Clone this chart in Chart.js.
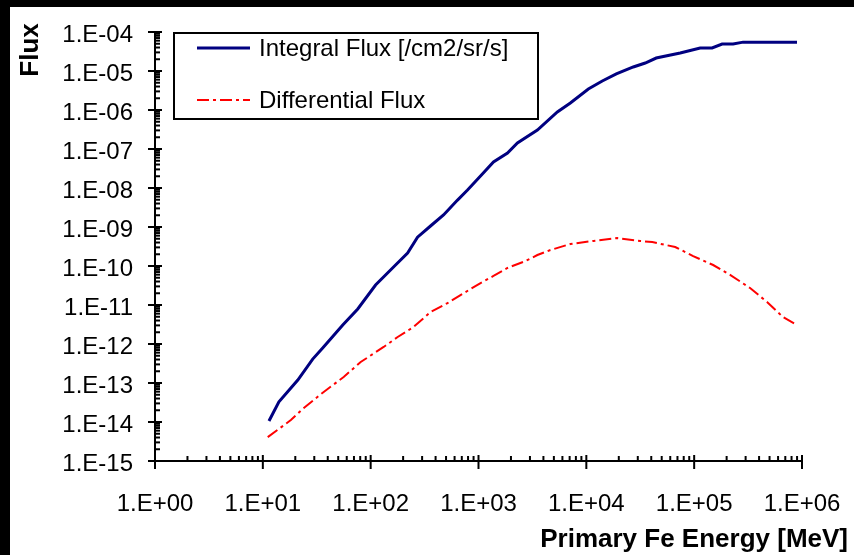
<!DOCTYPE html>
<html>
<head>
<meta charset="utf-8">
<script src="https://cdn.jsdelivr.net/npm/chart.js@4"></script>
<style>
  body { margin: 0; background: #000; }
  #wrap { position: absolute; left: 10px; top: 7px; width: 844px; height: 548px; background: #fff; }
</style>
</head>
<body>
<div id="wrap"><canvas id="fluxChart" width="844" height="548"></canvas></div>
<script>
// Integral flux
const integralEnergy = [11.4, 14.1, 21.1, 29.0, 35.9, 55.1, 75.9, 111, 163, 220, 272, 359, 474, 639, 791,
    1044, 1377, 1857, 2296, 3516, 5386, 7110, 10440, 14060, 18970, 27250, 35170, 44450, 74200,
    113600, 146700, 181600, 229700, 284400, 899000];
const integralFlux = [1.06e-14, 3.3e-14, 1.19e-13, 4.1e-13, 7.9e-13, 3.07e-12, 7.9e-12, 3.26e-11, 9.4e-11,
    2.15e-10, 5.5e-10, 1.06e-9, 2.03e-9, 4.9e-9, 8.9e-9, 2.03e-8, 4.65e-8, 7.9e-8, 1.43e-7, 3.07e-7,
    8.9e-7, 1.51e-6, 3.45e-6, 5.55e-6, 8.4e-6, 1.27e-5, 1.6e-5, 2.15e-5, 2.9e-5, 3.9e-5, 3.9e-5,
    4.9e-5, 4.9e-5, 5.5e-5, 5.5e-5];

// Differential flux
const diffEnergy = [11.1, 18.2, 24.0, 36.7, 56.2, 80.8, 132, 178, 250, 359, 516, 681, 1044, 1377, 1857,
    2723, 3516, 4642, 7110, 11610, 19360, 31620, 40830, 66700, 97900, 150000, 215400, 330000,
    474000, 666000, 861000];
const diffFlux = [4.1e-15, 1.12e-14, 2.29e-14, 5.9e-14, 1.43e-13, 3.45e-13, 8.4e-13, 1.51e-12, 2.73e-12,
    6.6e-12, 1.12e-11, 1.8e-11, 3.66e-11, 5.55e-11, 8.9e-11, 1.34e-10, 1.91e-10, 2.57e-10, 3.66e-10,
    4.4e-10, 5.2e-10, 4.4e-10, 4.1e-10, 3.07e-10, 1.8e-10, 1.06e-10, 5.9e-11, 2.73e-11, 1.19e-11,
    4.9e-12, 3.26e-12];

const seriesNames = ["Integral Flux [/cm2/sr/s]", "Differential Flux"];
const xExponents = [0, 1, 2, 3, 4, 5, 6];
const yExponents = [-15, -14, -13, -12, -11, -10, -9, -8, -7, -6, -5, -4];
const xTitle = "Primary Fe Energy [MeV]";
const yTitle = "Flux";

function toPoints(xs, ys) {
    return xs.map((x, i) => ({ x: x, y: ys[i] }));
}

function sciLabel(v) {
    const e = Math.round(Math.log10(v));
    return "1.E" + (e < 0 ? "-" : "+") + String(Math.abs(e)).padStart(2, "0");
}

// ticks, axis titles and legend box
const decorPlugin = {
    id: "decor",
    afterDraw(chart) {
        const ctx = chart.ctx;
        const xs = chart.scales.x, ys = chart.scales.y;
        const area = chart.chartArea;
        ctx.save();
        ctx.strokeStyle = "#000";
        ctx.lineWidth = 2;

        // x ticks
        xExponents.forEach((e, i) => {
            const px = xs.getPixelForValue(Math.pow(10, e));
            ctx.beginPath(); ctx.moveTo(px, area.bottom - 6); ctx.lineTo(px, area.bottom + 8); ctx.stroke();
            if (i < xExponents.length - 1) {
                for (let m = 2; m <= 9; m++) {
                    const p = xs.getPixelForValue(m * Math.pow(10, e));
                    ctx.beginPath(); ctx.moveTo(p, area.bottom); ctx.lineTo(p, area.bottom - 5); ctx.stroke();
                }
            }
        });
        // y ticks
        yExponents.forEach((e, i) => {
            const py = ys.getPixelForValue(Math.pow(10, e));
            ctx.beginPath(); ctx.moveTo(area.left - 7, py); ctx.lineTo(area.left + 7, py); ctx.stroke();
            if (i < yExponents.length - 1) {
                for (let m = 2; m <= 9; m++) {
                    const p = ys.getPixelForValue(m * Math.pow(10, e));
                    ctx.beginPath(); ctx.moveTo(area.left, p); ctx.lineTo(area.left + 5, p); ctx.stroke();
                }
            }
        });

        // axis titles
        ctx.fillStyle = "#000";
        ctx.font = "bold 26px 'Liberation Sans', Arial, sans-serif";
        ctx.textAlign = "right";
        ctx.textBaseline = "alphabetic";
        ctx.fillText(xTitle, 838, 540);
        ctx.save();
        ctx.translate(28, 43);
        ctx.rotate(-Math.PI / 2);
        ctx.textAlign = "center";
        ctx.fillText(yTitle, 0, 0);
        ctx.restore();

        // legend
        const bx = area.left + 19, by = area.top + 1, bw = 364, bh = 86;
        ctx.fillStyle = "#fff";
        ctx.fillRect(bx, by, bw, bh);
        ctx.lineWidth = 2;
        ctx.strokeStyle = "#000";
        ctx.strokeRect(bx, by, bw, bh);
        ctx.font = "24px 'Liberation Sans', Arial, sans-serif";
        ctx.textAlign = "left";
        ctx.textBaseline = "middle";
        chart.data.datasets.forEach((ds, i) => {
            const ly = by + 15 + i * 52;
            ctx.strokeStyle = ds.borderColor;
            ctx.lineWidth = ds.borderWidth;
            ctx.setLineDash(ds.borderDash || []);
            ctx.beginPath(); ctx.moveTo(bx + 23, ly); ctx.lineTo(bx + 76, ly); ctx.stroke();
            ctx.setLineDash([]);
            ctx.fillStyle = "#000";
            ctx.fillText(ds.label, bx + 85, ly + 1);
        });
        ctx.restore();
    }
};

new Chart("fluxChart", {
    type: "line",
    data: {
        datasets: [
            {
                label: seriesNames[0],
                data: toPoints(integralEnergy, integralFlux),
                borderColor: "#000080",
                borderWidth: 3,
                pointRadius: 0,
                tension: 0
            },
            {
                label: seriesNames[1],
                data: toPoints(diffEnergy, diffFlux),
                borderColor: "#ff0000",
                borderWidth: 2,
                borderDash: [12, 4, 3, 4],
                pointRadius: 0,
                tension: 0
            }
        ]
    },
    options: {
        responsive: false,
        animation: false,
        layout: { padding: { top: 25, right: 52, bottom: 0, left: 0 } },
        plugins: {
            legend: { display: false },
            tooltip: { enabled: false }
        },
        scales: {
            x: {
                type: "logarithmic",
                min: 1,
                max: 1e6,
                grid: { display: false, drawTicks: false },
                border: { display: true, color: "#000", width: 2 },
                afterBuildTicks: (scale) => {
                    scale.ticks = xExponents.map(e => ({ value: Math.pow(10, e) }));
                },
                afterFit: (scale) => {
                    scale.height = 94;
                    scale.paddingLeft = 0;
                    scale.paddingRight = 0;
                },
                ticks: {
                    autoSkip: false,
                    maxRotation: 0,
                    padding: 29,
                    color: "#000",
                    font: { family: "'Liberation Sans', Arial, sans-serif", size: 24 },
                    callback: (v) => sciLabel(v)
                }
            },
            y: {
                type: "logarithmic",
                min: 1e-15,
                max: 1e-4,
                grid: { display: false, drawTicks: false },
                border: { display: true, color: "#000", width: 2 },
                afterBuildTicks: (scale) => {
                    scale.ticks = yExponents.map(e => ({ value: Math.pow(10, e) }));
                },
                afterFit: (scale) => {
                    scale.width = 145;
                    scale.paddingTop = 0;
                    scale.paddingBottom = 0;
                },
                ticks: {
                    autoSkip: false,
                    padding: 22,
                    labelOffset: 3,
                    color: "#000",
                    font: { family: "'Liberation Sans', Arial, sans-serif", size: 24 },
                    callback: (v) => sciLabel(v)
                }
            }
        }
    },
    plugins: [decorPlugin]
});
</script>
</body>
</html>
